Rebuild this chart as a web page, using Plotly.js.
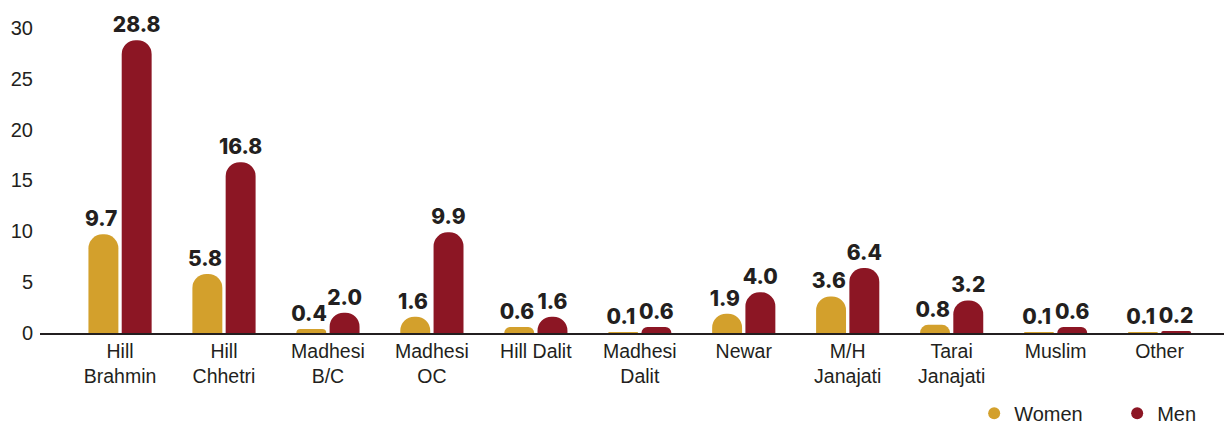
<!DOCTYPE html>
<html>
<head>
<meta charset="utf-8">
<script src="https://cdn.plot.ly/plotly-3.0.1.min.js"></script>
<style>html,body{margin:0;padding:0;background:#fff;}#chart{width:1224px;height:425px;}</style>
</head>
<body>
<div id="chart"></div>
<script>
const categories = ["Hill<br>Brahmin","Hill<br>Chhetri","Madhesi<br>B/C","Madhesi<br>OC","Hill Dalit","Madhesi<br>Dalit","Newar","M/H<br>Janajati","Tarai<br>Janajati","Muslim","Other"];
const women = [9.7, 5.8, 0.4, 1.6, 0.6, 0.1, 1.9, 3.6, 0.8, 0.1, 0.1];
const men = [28.8, 16.8, 2.0, 9.9, 1.6, 0.6, 4.0, 6.4, 3.2, 0.6, 0.2];
const yTicks = [0, 5, 10, 15, 20, 25, 30];

const GOLD = "#D3A02C", MAROON = "#8C1624";
const labelFont = {family: "Inter, 'DejaVu Sans', sans-serif", size: 21, color: "#231f20", weight: 800};

function barTrace(name, vals, color, suffix) {
  return {
    type: "bar", name: name, x: categories, y: vals,
    marker: {color: color, cornerradius: 14},
    text: vals.map(v => v.toFixed(1) + suffix), textposition: "outside", constraintext: "none",
    textfont: labelFont, cliponaxis: false, showlegend: false,
    hoverinfo: "x+y"
  };
}
function legendTrace(name, color) {
  return {
    type: "scatter", mode: "markers", name: name, x: [categories[0]], y: [null],
    marker: {color: color, size: 17, symbol: "circle"}, showlegend: true, hoverinfo: "skip"
  };
}

const data = [
  barTrace("Women", women, GOLD, "\u00a0"),
  barTrace("Men", men, MAROON, ""),
  legendTrace("Women", GOLD), legendTrace("Men", MAROON)
];

const layout = {
  width: 1224, height: 425,
  margin: {l: 40, r: 0, t: 20, b: 92, autoexpand: false},
  paper_bgcolor: "#fff", plot_bgcolor: "#fff",
  font: {family: "'Liberation Sans', Arial, sans-serif", size: 19, color: "#231f20"},
  barmode: "group", bargap: 0.36, bargroupgap: 0.1,
  xaxis: {
    type: "category", range: [-0.77, 10.62], showgrid: false, zeroline: false,
    showline: true, linecolor: "#231f20", linewidth: 1.5, ticks: "",
    tickfont: {size: 19.5, color: "#231f20"}, fixedrange: true
  },
  yaxis: {
    range: [0, 30.78], tickvals: yTicks, ticktext: yTicks.map(String),
    showgrid: false, zeroline: false, showline: false, ticks: "",
    ticklabelstandoff: 6,
    tickfont: {size: 20, color: "#231f20"}, fixedrange: true
  },
  legend: {
    orientation: "h", x: 0.789, xanchor: "left", y: -0.194, yanchor: "top",
    font: {size: 20, color: "#231f20"}, itemsizing: "constant", itemwidth: 30,
    entrywidth: 98, entrywidthmode: "pixels",
    traceorder: "normal", tracegroupgap: 0
  },
  showlegend: true
};

Plotly.newPlot("chart", data, layout, {displayModeBar: false, staticPlot: true});
</script>
</body>
</html>
